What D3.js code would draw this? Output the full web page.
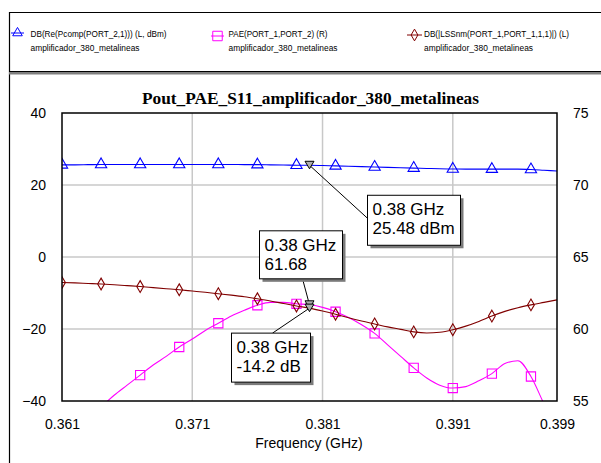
<!DOCTYPE html>
<html>
<head>
<meta charset="utf-8">
<script src="https://cdn.jsdelivr.net/npm/d3@7"></script>
<style>
  body { margin: 0; background: #fff; }
  text { font-family: "Liberation Sans", Arial, sans-serif; }
</style>
</head>
<body>
<div id="viz"></div>
<script>
//==============================================================================
// Data (frequency in GHz, every 0.001 GHz)
var freq = d3.range(39).map(function(i) { return +(0.361 + i * 0.001).toFixed(3); });

var pout = [25.6, 25.6, 25.65, 25.7, 25.7, 25.7, 25.7, 25.7, 25.7, 25.7,
            25.7, 25.7, 25.7, 25.7, 25.65, 25.65, 25.6, 25.55, 25.5, 25.48,
            25.4, 25.3, 25.2, 25.1, 25.0, 24.9, 24.8, 24.7, 24.6, 24.5,
            24.45, 24.4, 24.4, 24.4, 24.4, 24.4, 24.3, 24.1, 23.9];

var pae = [52.5, 53.3, 54.0, 54.6, 55.4, 56.1, 56.8, 57.5, 58.1, 58.75,
           59.3, 59.9, 60.4, 60.9, 61.3, 61.65, 61.85, 61.85, 61.75, 61.68,
           61.5, 61.2, 60.8, 60.3, 59.7, 58.9, 58.1, 57.3, 56.6, 56.1,
           55.9, 56.0, 56.4, 56.9, 57.6, 57.8, 56.7, 54.8, 53.0];

var s11 = [-7.1, -7.2, -7.35, -7.5, -7.7, -7.95, -8.2, -8.5, -8.8, -9.1,
           -9.45, -9.8, -10.2, -10.6, -11.05, -11.6, -12.2, -12.9, -13.6, -14.2,
           -15.0, -15.9, -16.9, -17.8, -18.6, -19.4, -20.1, -20.8, -21.1, -20.9,
           -20.2, -19.2, -17.9, -16.4, -15.1, -14.1, -13.3, -12.6, -11.9];

var xTicks = [0.361, 0.371, 0.381, 0.391, 0.399];
var yLeftTicks = [-40, -20, 0, 20, 40];
var yRightTicks = [55, 60, 65, 70, 75];

var legendNames = ["DB(Re(Pcomp(PORT_2,1))) (L, dBm)", "PAE(PORT_1,PORT_2) (R)", "DB(|LSSnm(PORT_1,PORT_1,1,1)|) (L)"];
var legendSub = "amplificador_380_metalineas";
var chartTitle = "Pout_PAE_S11_amplificador_380_metalineas";

var markerFreq = 0.38;

//==============================================================================
// Layout
var width = 601, height = 463;
var plotL = 62, plotR = 557, plotT = 113, plotB = 401;

var svg = d3.select("#viz").append("svg")
  .attr("width", width)
  .attr("height", height);

var x = d3.scaleLinear().domain([0.361, 0.399]).range([plotL, plotR]);
var yL = d3.scaleLinear().domain([-40, 40]).range([plotB, plotT]);
var yR = d3.scaleLinear().domain([55, 75]).range([plotB, plotT]);

// outer frame and legend separator
svg.append("path")
  .attr("d", "M9.5," + height + "V12.5H" + width)
  .attr("fill", "none").attr("stroke", "#000").attr("stroke-width", 1.2);
svg.append("rect").attr("x", 9).attr("y", 72).attr("width", width).attr("height", 2.5).attr("fill", "#808080");
svg.append("line").attr("x1", 9).attr("x2", width).attr("y1", 71.5).attr("y2", 71.5)
  .attr("stroke", "#000").attr("stroke-width", 1.2);

//==============================================================================
// Legend
var series = [
  {name: legendNames[0], color: "#0000ff", symbol: d3.symbolTriangle, size: 40, lx: 11, lw: 13, ly: 33, tx: 30.5, w1: 136},
  {name: legendNames[1], color: "#ff00ff", symbol: d3.symbolSquare, size: 90, lx: 211, lw: 13, ly: 36, tx: 228.5, w1: 99},
  {name: legendNames[2], color: "#800000", symbol: d3.symbolDiamond, size: 40, lx: 407, lw: 15, ly: 35, tx: 424, w1: 145}
];

var leg = svg.append("g").selectAll("g").data(series).enter().append("g");
leg.append("line")
  .attr("x1", function(d) { return d.lx; })
  .attr("x2", function(d) { return d.lx + d.lw; })
  .attr("y1", function(d) { return d.ly; })
  .attr("y2", function(d) { return d.ly; })
  .attr("stroke", function(d) { return d.color; });
leg.append("path")
  .attr("d", function(d) { return d3.symbol().type(d.symbol).size(d.size)(); })
  .attr("transform", function(d) { return "translate(" + (d.lx + d.lw / 2) + "," + d.ly + ")"; })
  .attr("fill", "none")
  .attr("stroke", function(d) { return d.color; });
leg.append("text")
  .attr("x", function(d) { return d.tx; })
  .attr("y", 37)
  .attr("font-size", "8.5px")
  .attr("textLength", function(d) { return d.w1; })
  .attr("lengthAdjust", "spacingAndGlyphs")
  .text(function(d) { return d.name; });
leg.append("text")
  .attr("x", function(d) { return d.tx; })
  .attr("y", 51)
  .attr("font-size", "8.5px")
  .attr("textLength", 109)
  .attr("lengthAdjust", "spacingAndGlyphs")
  .text(legendSub);

//==============================================================================
// Title
svg.append("text")
  .attr("x", 310.5).attr("y", 104)
  .attr("text-anchor", "middle")
  .style("font-family", "'Liberation Serif', 'Times New Roman', serif")
  .attr("font-weight", "bold")
  .attr("font-size", "17px")
  .attr("textLength", 337)
  .attr("lengthAdjust", "spacingAndGlyphs")
  .text(chartTitle);

//==============================================================================
// Grid
var grid = svg.append("g").attr("stroke", "#c8c8c8").attr("stroke-width", 1.5);
grid.selectAll(".hg").data(yLeftTicks.slice(1, -1)).enter().append("line")
  .attr("x1", plotL).attr("x2", plotR)
  .attr("y1", function(d) { return yL(d); })
  .attr("y2", function(d) { return yL(d); });
grid.selectAll(".vg").data(xTicks.slice(1, -1)).enter().append("line")
  .attr("y1", plotT).attr("y2", plotB)
  .attr("x1", function(d) { return x(d); })
  .attr("x2", function(d) { return x(d); });

// Axes
var axisStyle = function(g) {
  g.select(".domain").remove();
  g.selectAll("text").attr("font-size", "14px").attr("fill", "#000")
    .style("font-family", "'Liberation Sans', Arial, sans-serif");
};
svg.append("g").attr("transform", "translate(" + plotL + ",0)")
  .call(d3.axisLeft(yL).tickValues(yLeftTicks).tickSize(0).tickPadding(16))
  .call(axisStyle);
svg.append("g").attr("transform", "translate(" + plotR + ",0)")
  .call(d3.axisRight(yR).tickValues(yRightTicks).tickSize(0).tickPadding(16))
  .call(axisStyle);
svg.append("g").attr("transform", "translate(0," + plotB + ")")
  .call(d3.axisBottom(x).tickValues(xTicks).tickFormat(d3.format(".3f")).tickSize(0).tickPadding(18))
  .call(axisStyle);

svg.append("text")
  .attr("x", 309).attr("y", 448)
  .attr("text-anchor", "middle")
  .attr("font-size", "14px")
  .text("Frequency (GHz)");

//==============================================================================
// Traces
svg.append("clipPath").attr("id", "plotclip")
  .append("rect").attr("x", plotL).attr("y", plotT).attr("width", plotR - plotL).attr("height", plotB - plotT);

var traces = [
  {vals: pout, y: yL, color: "#0000ff", symbol: d3.symbolTriangle, size: 55},
  {vals: pae, y: yR, color: "#ff00ff", symbol: d3.symbolSquare, size: 85},
  {vals: s11, y: yL, color: "#800000", symbol: d3.symbolDiamond, size: 40}
];

var plot = svg.append("g").attr("clip-path", "url(#plotclip)");

traces.forEach(function(t) {
  var line = d3.line()
    .x(function(d, i) { return x(freq[i]); })
    .y(function(d) { return t.y(d); })
    .curve(d3.curveMonotoneX);
  plot.append("path")
    .attr("d", line(t.vals))
    .attr("fill", "none")
    .attr("stroke", t.color)
    .attr("stroke-width", 1.1);
  plot.selectAll(null)
    .data(t.vals.filter(function(d, i) { return i % 3 === 0; }))
    .enter().append("path")
    .attr("d", d3.symbol().type(t.symbol).size(t.size))
    .attr("transform", function(d, i) { return "translate(" + x(freq[i * 3]) + "," + t.y(d) + ")"; })
    .attr("fill", "none")
    .attr("stroke", t.color)
    .attr("stroke-width", 1.1);
});

// plot border
svg.append("rect")
  .attr("x", plotL).attr("y", plotT).attr("width", plotR - plotL).attr("height", plotB - plotT)
  .attr("fill", "none").attr("stroke", "#000").attr("stroke-width", 1.5);

//==============================================================================
// Marker callouts at 0.38 GHz
var mi = freq.indexOf(markerFreq);
var callouts = [
  {px: x(markerFreq), py: yL(pout[mi]), lines: ["0.38 GHz", pout[mi].toFixed(2) + " dBm"],
   dx: 58, dy: 30, w: 93, h: 50, ax: 0, ay: 23},
  {px: x(markerFreq), py: yR(pae[mi]), lines: ["0.38 GHz", pae[mi].toFixed(2)],
   dx: -50, dy: -74, w: 83, h: 48, ax: 43, ay: 48},
  {px: x(markerFreq), py: yL(s11[mi]), lines: ["0.38 GHz", s11[mi].toFixed(1) + " dB"],
   dx: -78, dy: 25, w: 79, h: 49, ax: 41, ay: 0}
];

var tri = "M-4.5,-4L4.5,-4L0,3.5Z";
callouts.forEach(function(c) {
  var bx = c.px + c.dx, by = c.py + c.dy;
  svg.append("line")
    .attr("x1", c.px).attr("y1", c.py)
    .attr("x2", bx + c.ax).attr("y2", by + c.ay)
    .attr("stroke", "#000").attr("stroke-width", 1);
  svg.append("path")
    .attr("d", tri)
    .attr("transform", "translate(" + c.px + "," + c.py + ")")
    .attr("fill", "#b0b0b0").attr("stroke", "#000").attr("stroke-width", 1);
  svg.append("rect")
    .attr("x", bx + 3).attr("y", by + 3).attr("width", c.w).attr("height", c.h)
    .attr("fill", "#7a7a7a");
  svg.append("rect")
    .attr("x", bx).attr("y", by).attr("width", c.w).attr("height", c.h)
    .attr("fill", "#fff").attr("stroke", "#000").attr("stroke-width", 1);
  svg.append("text")
    .attr("x", bx + 5).attr("y", by + 20)
    .attr("font-size", "17px")
    .text(c.lines[0]);
  svg.append("text")
    .attr("x", bx + 5).attr("y", by + 39)
    .attr("font-size", "17px")
    .text(c.lines[1]);
});
</script>
</body>
</html>
